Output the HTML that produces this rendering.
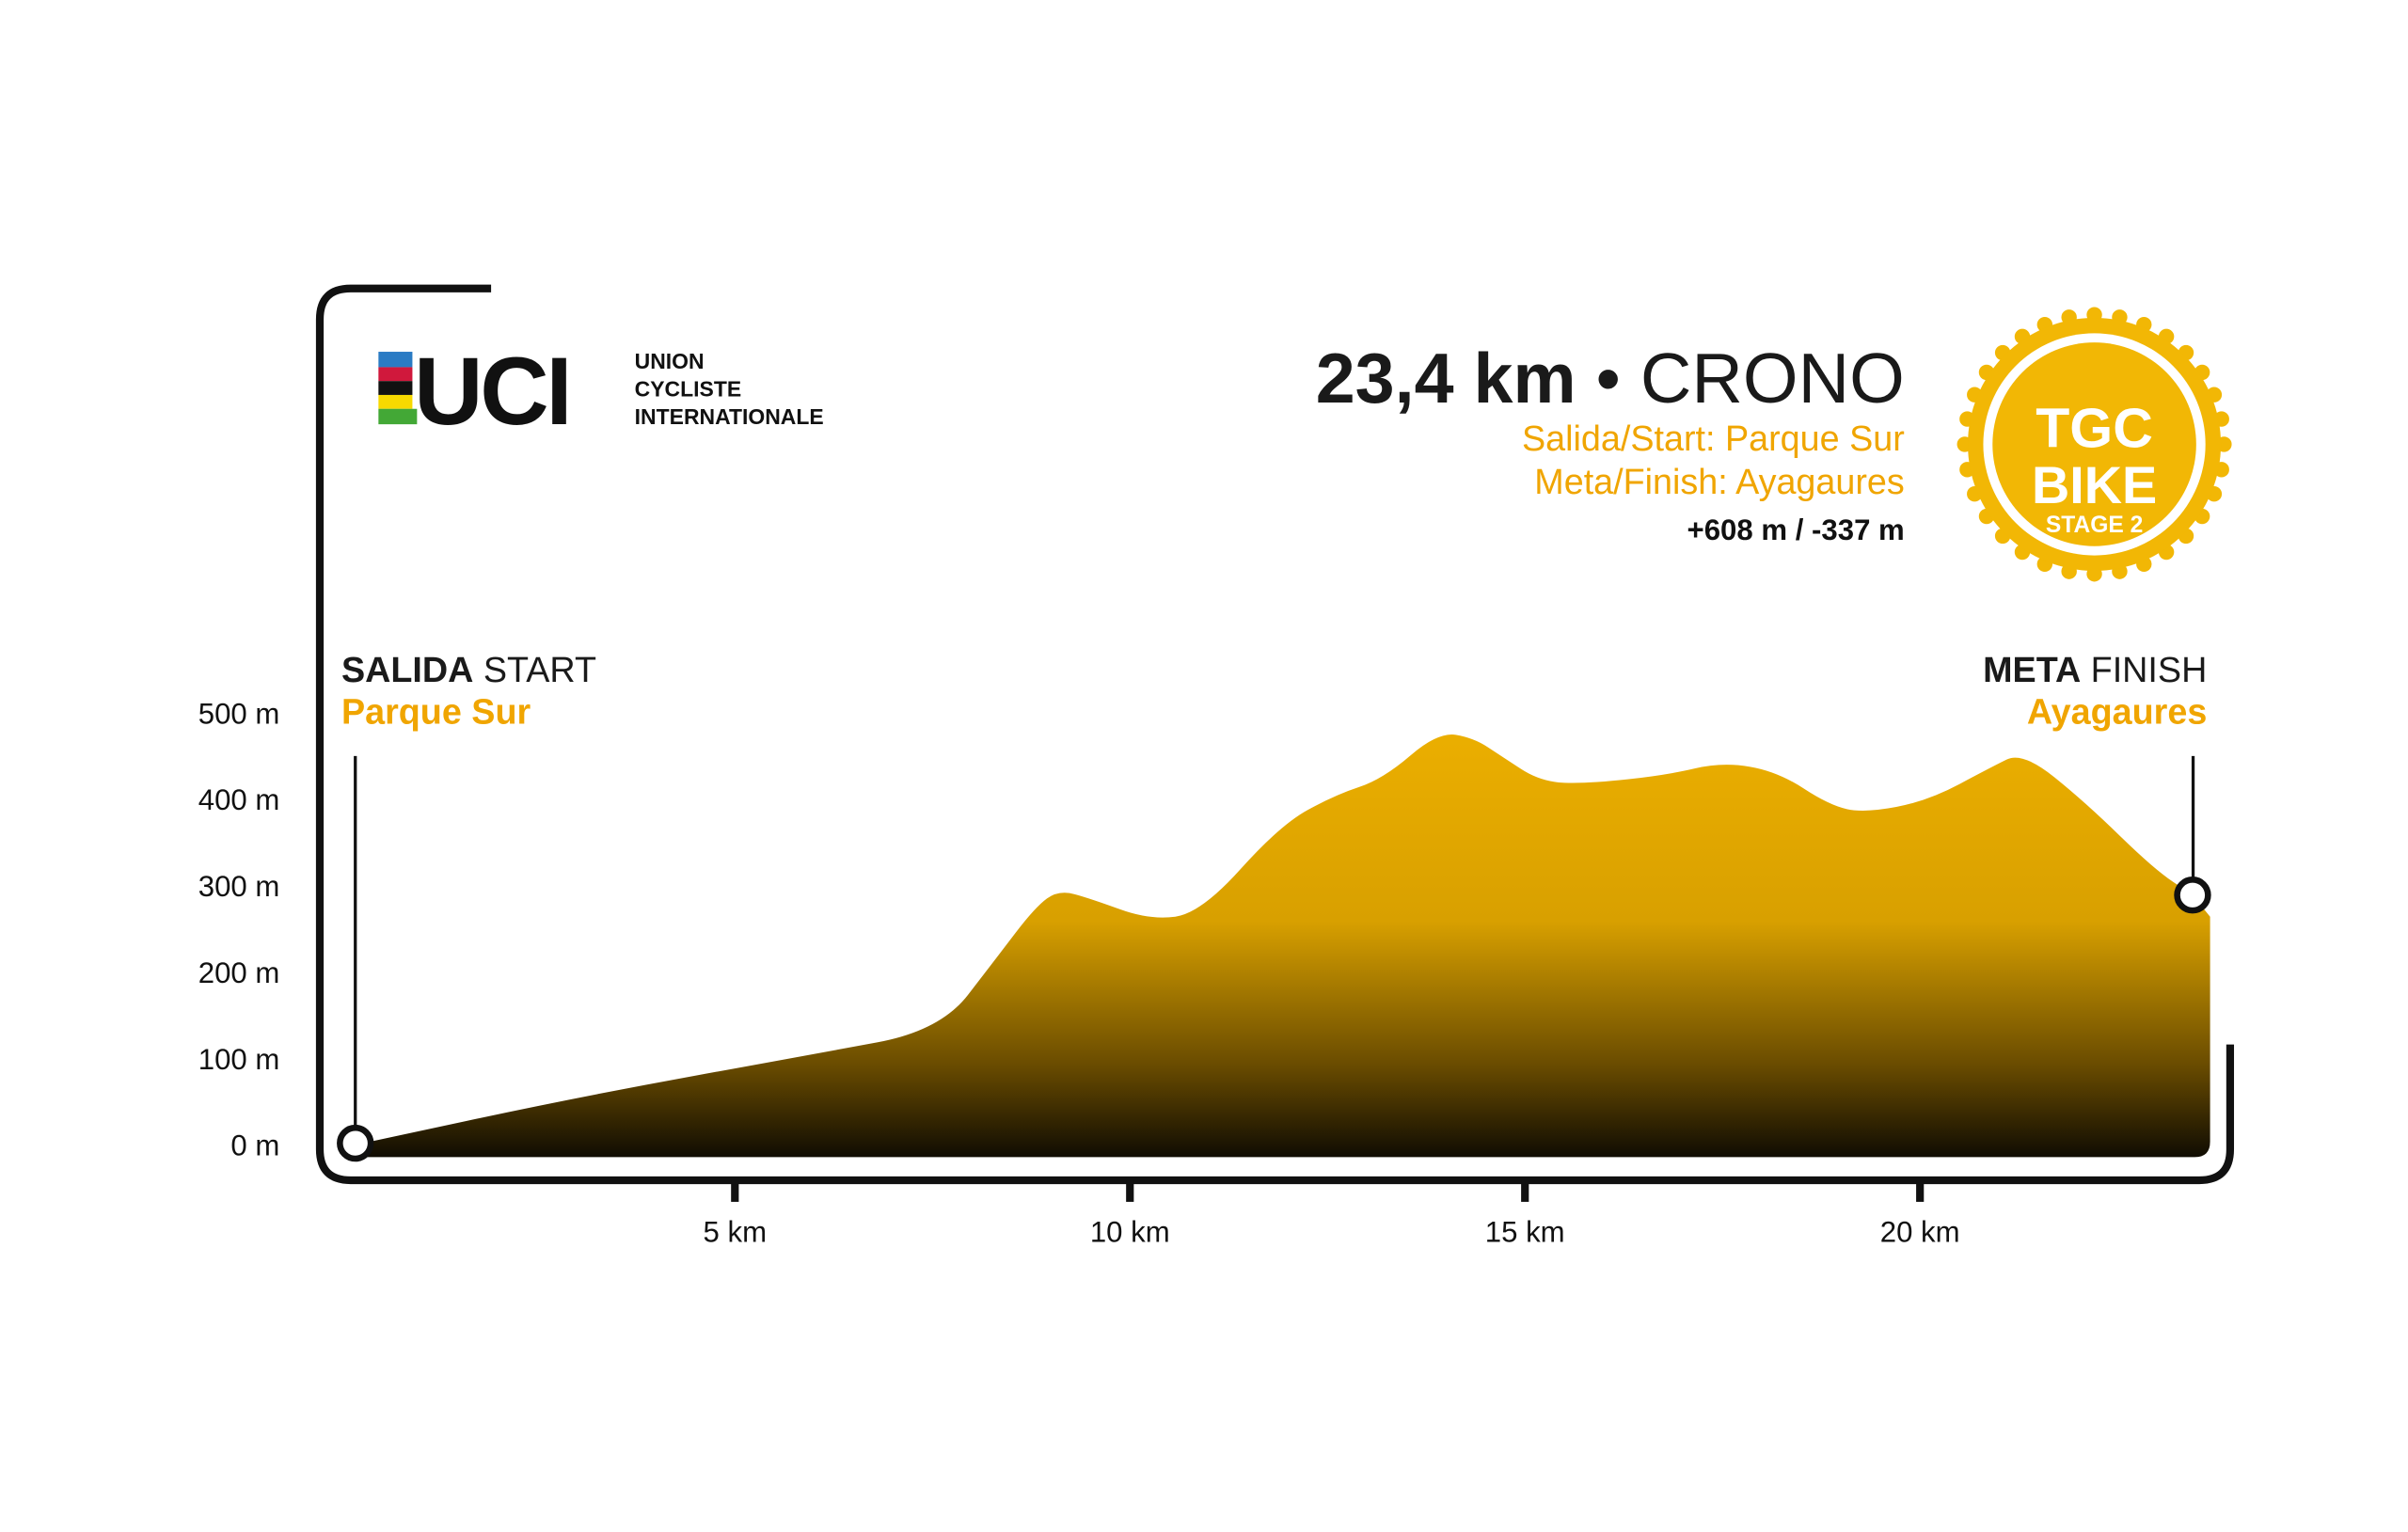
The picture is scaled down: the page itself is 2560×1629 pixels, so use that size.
<!DOCTYPE html>
<html><head><meta charset="utf-8"><style>
html,body{margin:0;padding:0;background:#fff;}
svg{display:block;}
text{font-family:"Liberation Sans",sans-serif;}
</style></head><body>
<svg id="chart" width="2560" height="1629" viewBox="0 0 1560 993" xmlns="http://www.w3.org/2000/svg">
<defs>
<linearGradient id="fillg" gradientUnits="userSpaceOnUse" x1="0" y1="470" x2="0" y2="752">
<stop offset="0" stop-color="#ecaf00"/><stop offset="0.45" stop-color="#d8a000"/><stop offset="0.78" stop-color="#6a4c00"/><stop offset="1" stop-color="#0d0a02"/>
</linearGradient>
</defs>
<path d="M318,187 H227 Q207,187 207,207 V745 Q207,765 227,765 H1425 Q1445,765 1445,745 V677" fill="none" stroke="#111" stroke-width="5"/>
<g id="yaxis"></g>
<g id="xaxis"></g>
<path id="area" fill="url(#fillg)"/>
<line x1="230" y1="490" x2="230" y2="732" stroke="#111" stroke-width="2"/>
<line x1="1421" y1="490" x2="1421" y2="570" stroke="#111" stroke-width="2"/>
<circle cx="230" cy="741" r="10" fill="#fff" stroke="#111" stroke-width="4"/>
<circle id="finishpt" cx="1421" cy="580" r="10" fill="#fff" stroke="#111" stroke-width="4"/>
<text x="221" y="442" font-size="23" fill="#1a1a1a"><tspan font-weight="bold">SALIDA</tspan> START</text>
<text x="221" y="469" font-size="23" font-weight="bold" fill="#f0a500">Parque Sur</text>
<text x="1430" y="442" font-size="23" fill="#1a1a1a" text-anchor="end"><tspan font-weight="bold">META</tspan> FINISH</text>
<text x="1430" y="469" font-size="23" font-weight="bold" fill="#f0a500" text-anchor="end">Ayagaures</text>
<text x="1234" y="261" font-size="46" fill="#1a1a1a" text-anchor="end"><tspan font-weight="bold">23,4 km</tspan> • CRONO</text>
<text x="1234" y="292" font-size="23" fill="#f0a500" text-anchor="end">Salida/Start: Parque Sur</text>
<text x="1234" y="320" font-size="23" fill="#f0a500" text-anchor="end">Meta/Finish: Ayagaures</text>
<text x="1234" y="350" font-size="19" font-weight="bold" fill="#111" text-anchor="end">+608 m / -337 m</text>
<g>
<rect x="245" y="228" width="22" height="10" fill="#2a7bc4"/><rect x="245" y="238" width="22" height="9" fill="#d0183c"/><rect x="245" y="247" width="22" height="9" fill="#111"/><rect x="245" y="256" width="22" height="9" fill="#f7d900"/><rect x="245" y="265" width="25" height="10" fill="#43a836"/>
<text x="268" y="275" font-size="62" font-weight="bold" fill="#111" letter-spacing="-2">UCI</text>
<text x="411" y="239" font-size="14" font-weight="bold" fill="#111">UNION</text>
<text x="411" y="257" font-size="14" font-weight="bold" fill="#111">CYCLISTE</text>
<text x="411" y="275" font-size="14" font-weight="bold" fill="#111">INTERNATIONALE</text>
</g>
<g id="badge">
<circle cx="1357" cy="288" r="82" fill="#f2b705"/>
<circle cx="1357" cy="288" r="72" fill="#fff"/>
<circle cx="1357" cy="288" r="66" fill="#f2b705"/>
<text x="1357" y="290" font-size="36" font-weight="bold" fill="#fff" text-anchor="middle">TGC</text>
<text x="1357" y="326" font-size="34" font-weight="bold" fill="#fff" text-anchor="middle">BIKE</text>
<text x="1357" y="345" font-size="15" font-weight="bold" fill="#fff" text-anchor="middle">STAGE 2</text>
</g>
</svg>
<script>
const yTicks=[0,100,200,300,400,500];
const xTicks=[5,10,15,20];
const km=[0.2,3,6,7.6,8.3,8.8,9.1,9.5,10.25,10.9,11.9,12.6,13.2,13.9,14.35,14.7,15.2,15.8,16.8,17.5,18.2,18.85,19.3,20.1,20.9,21.3,22.1,22.95,23.45];
const elev=[0,55,105,132,215,275,295,285,260,268,370,405,423,478,471,450,420,418,428,443,432,393,384,398,437,455,396,320,289];
const X=k=>220+51.2*k, Y=e=>742-0.56*e;
const NS="http://www.w3.org/2000/svg";
const ya=document.getElementById('yaxis'), xa=document.getElementById('xaxis');
yTicks.forEach(v=>{const t=document.createElementNS(NS,'text');


t.setAttribute('x',181);t.setAttribute('y',Y(v)+7);t.setAttribute('font-size','19');t.setAttribute('text-anchor','end');t.setAttribute('fill','#111');t.textContent=v+' m';ya.appendChild(t);});
xTicks.forEach(v=>{const l=document.createElementNS(NS,'line');


l.setAttribute('x1',X(v));l.setAttribute('x2',X(v));l.setAttribute('y1',765);l.setAttribute('y2',779);l.setAttribute('stroke','#111');l.setAttribute('stroke-width','5');xa.appendChild(l);
const t=document.createElementNS(NS,'text');


t.setAttribute('x',X(v));t.setAttribute('y',805);t.setAttribute('font-size','19');t.setAttribute('text-anchor','middle');t.setAttribute('fill','#111');t.textContent=v+' km';xa.appendChild(t);});
let d='M'+X(km[0])+','+Y(elev[0]);
for(let i=1;i<km.length;i++){const px=X(km[i-1]),py=Y(elev[i-1]),cx=X(km[i]),cy=Y(elev[i]);const mx=(px+cx)/2;d+=' Q'+px+','+py+' '+mx+','+((py+cy)/2);}
const lx=X(km[km.length-1]),ly=Y(elev[elev.length-1]);
d+=' L'+lx+','+ly+' L1432,'+(ly+14)+' L1432,740 Q1432,750 1422,750 L230,750 Z';
document.getElementById('area').setAttribute('d',d);
const fp=document.getElementById('finishpt');fp.setAttribute('cx',lx);fp.setAttribute('cy',ly);
const b=document.getElementById('badge');
for(let i=0;i<32;i++){const a=i/32*2*Math.PI;const c=document.createElementNS(NS,'circle');


c.setAttribute('cx',1357+84*Math.cos(a));c.setAttribute('cy',288+84*Math.sin(a));c.setAttribute('r','5');c.setAttribute('fill','#f2b705');b.insertBefore(c,b.firstChild);}
</script>
</body></html>
